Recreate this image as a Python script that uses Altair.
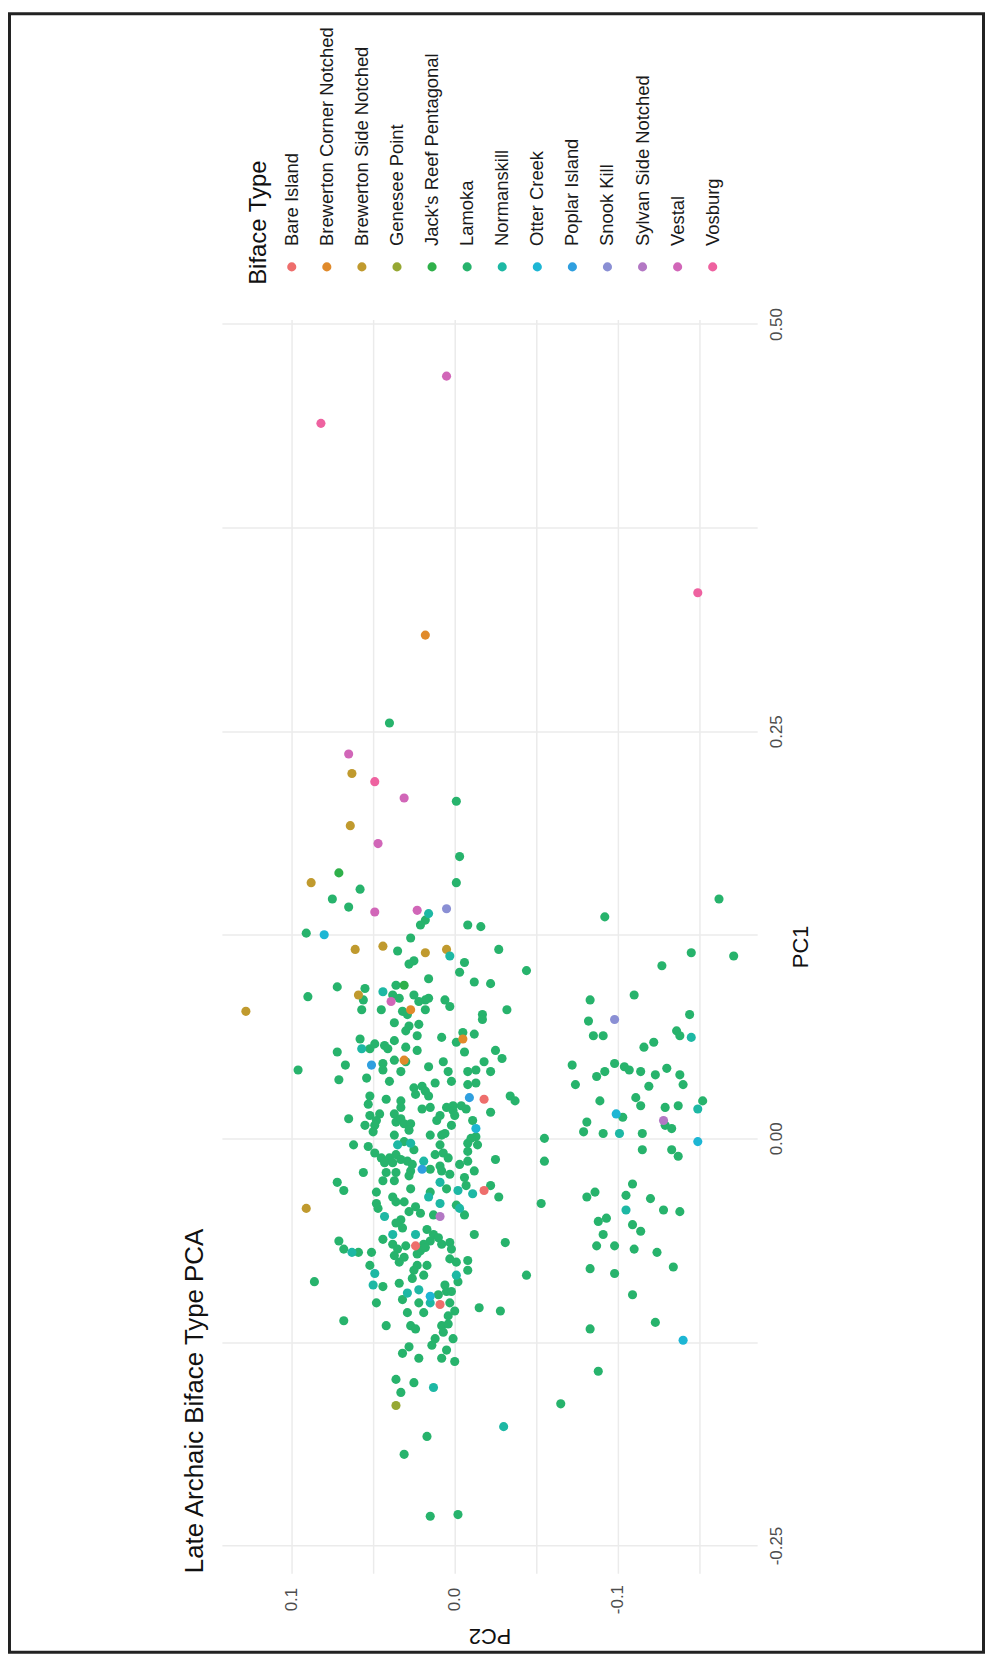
import altair as alt
import pandas as pd

FONT = "Liberation Sans"

types = ["Bare Island", "Brewerton Corner Notched", "Brewerton Side Notched", "Genesee Point",
         "Jack's Reef Pentagonal", "Lamoka", "Normanskill", "Otter Creek", "Poplar Island",
         "Snook Kill", "Sylvan Side Notched", "Vestal", "Vosburg"]
colors = ["#EE6E6C", "#E08A2B", "#C09A2E", "#96A833", "#2FB04A", "#27B36C", "#1DB8A4",
          "#1DB6D4", "#2F9FDF", "#8A8FD4", "#B378C4", "#D166B8", "#EE62A0"]

# ---- point values (PC2, PC1) per biface type ----
lamoka_pc2 = [0.040, -0.001, -0.003, -0.001, 0.058, 0.075, 0.065, 0.018, 0.021, -0.008, -0.016, 0.091,
              0.027, 0.035, -0.027, 0.025, 0.028, -0.006, -0.003, -0.044, 0.016, -0.012, -0.022, 0.072,
              0.055, 0.036, 0.090, 0.056, 0.038, 0.034, 0.025, 0.016, 0.018, 0.022, 0.006, 0.003,
              0.057, 0.045, 0.032, 0.018, 0.029, -0.017, -0.032, -0.017, 0.037, 0.028, 0.022,
              0.030, 0.023, 0.058, 0.049, 0.043, 0.037, 0.052, 0.041, 0.030, 0.023, 0.008, -0.005,
              -0.012, -0.001, -0.006, -0.025, -0.029, 0.072, 0.096, 0.067, 0.044, 0.037, 0.030, 0.033,
              0.044, 0.071, 0.054, 0.040, 0.016, 0.007, 0.004, 0.002, -0.008, -0.013, -0.018, -0.022,
              -0.013, -0.008, 0.012, 0.025, 0.020, 0.018, 0.024, 0.016, 0.052, 0.042, 0.033, -0.034,
              -0.037, 0.053, 0.033, 0.020, 0.015, 0.005, 0.001, -0.004, -0.007, -0.022, 0.001, 0.052,
              0.046, 0.037, 0.009, 0.000, 0.065, 0.048, 0.036, 0.033, 0.011, -0.011, 0.055, 0.049,
              0.031, 0.027, 0.002, 0.050, 0.028, 0.006, 0.037, 0.015, 0.008, -0.013, -0.010, -0.055,
              0.062, 0.053, 0.031, 0.009, -0.008, -0.014, 0.025, -0.008, 0.049, 0.045, 0.040, 0.036,
              0.033, 0.029, 0.043, 0.038, 0.026, 0.012, 0.007, 0.004, 0.009, -0.003, -0.008, -0.025,
              -0.055, 0.027, 0.015, 0.008, 0.042, 0.036, 0.056, 0.003, -0.012, 0.028, 0.044, 0.037,
              -0.006, 0.072, 0.068, 0.005, -0.007, -0.022, 0.048, 0.027, 0.015, -0.027,
              -0.053, 0.048, 0.047, 0.038, 0.036, 0.031, 0.024, 0.028, 0.021, -0.001, -0.006, 0.013,
              0.033, 0.036, 0.032, 0.044, 0.017, 0.013, 0.015, 0.019, 0.010, -0.012, -0.031, 0.071,
              0.068, 0.059, 0.051, 0.038, 0.035, 0.030, 0.037, 0.031, 0.034, 0.021, 0.018, 0.008,
              0.003, 0.002, 0.023, 0.003, -0.001, -0.008, -0.008, 0.052, 0.023, 0.017, 0.025, 0.019,
              0.086, 0.026, -0.002, -0.044, 0.044, 0.034, 0.006, 0.010, 0.005, 0.002, 0.032, 0.022,
              0.003, 0.048, 0.029, 0.019, 0.000, 0.004, -0.015, -0.028, 0.068, 0.042, 0.027, 0.024,
              0.008, 0.004, 0.007, 0.001, 0.012, 0.014, 0.028, 0.032, 0.005, 0.008, 0.022, 0.000,
              0.036, 0.025, 0.033, 0.017, 0.031, 0.015, -0.002,
              -0.162, -0.092, -0.145, -0.171, -0.127, -0.110, -0.083, -0.082, -0.144, -0.085, -0.091,
              -0.136, -0.138, -0.116, -0.122, -0.072, -0.098, -0.104, -0.107, -0.092, -0.087, -0.114,
              -0.123, -0.130, -0.138, -0.140, -0.074, -0.119, -0.089, -0.111, -0.114, -0.129, -0.137,
              -0.152, -0.103, -0.129, -0.133, -0.081, -0.079, -0.091, -0.115, -0.115, -0.133, -0.137,
              -0.109, -0.081, -0.086, -0.105, -0.120, -0.128, -0.138, -0.088, -0.093, -0.109, -0.114,
              -0.091, -0.087, -0.098, -0.110, -0.124, -0.083, -0.098, -0.134, -0.109, -0.123, -0.083,
              -0.088, -0.065]
lamoka_pc1 = [0.255, 0.207, 0.173, 0.157, 0.153, 0.147, 0.142, 0.134, 0.131, 0.131, 0.130, 0.126,
              0.123, 0.115, 0.116, 0.109, 0.107, 0.108, 0.102, 0.103, 0.098, 0.096, 0.095, 0.093,
              0.092, 0.094, 0.087, 0.085, 0.088, 0.086, 0.088, 0.086, 0.085, 0.084, 0.085, 0.081,
              0.079, 0.079, 0.078, 0.079, 0.076, 0.076, 0.079, 0.073, 0.071, 0.069, 0.070,
              0.066, 0.063, 0.061, 0.058, 0.057, 0.060, 0.055, 0.055, 0.056, 0.054, 0.062, 0.065,
              0.064, 0.059, 0.053, 0.054, 0.049, 0.053, 0.042, 0.045, 0.046, 0.048, 0.047, 0.041,
              0.042, 0.036, 0.037, 0.035, 0.044, 0.047, 0.041, 0.035, 0.041, 0.042, 0.047, 0.041,
              0.034, 0.033, 0.034, 0.031, 0.032, 0.029, 0.027, 0.026, 0.026, 0.024, 0.023, 0.026,
              0.023, 0.021, 0.019, 0.018, 0.019, 0.019, 0.020, 0.020, 0.018, 0.016, 0.017, 0.014,
              0.015, 0.015, 0.014, 0.014, 0.012, 0.011, 0.010, 0.012, 0.011, 0.011, 0.008, 0.008,
              0.009, 0.009, 0.008, 0.004, 0.005, 0.003, 0.002, 0.002, 0.002, 0.001, 0.000, 0.000,
              -0.004, -0.005, -0.002, -0.004, -0.003, -0.004, -0.007, -0.008, -0.009, -0.012, -0.012, -0.010,
              -0.013, -0.014, -0.015, -0.015, -0.016, -0.010, -0.009, -0.012, -0.017, -0.016, -0.014, -0.013,
              -0.014, -0.020, -0.019, -0.020, -0.021, -0.021, -0.021, -0.022, -0.020, -0.023, -0.026, -0.026,
              -0.024, -0.027, -0.032, -0.031, -0.029, -0.029, -0.033, -0.031, -0.033, -0.036,
              -0.040, -0.040, -0.043, -0.036, -0.039, -0.039, -0.042, -0.045, -0.046, -0.041, -0.047, -0.047,
              -0.050, -0.052, -0.055, -0.062, -0.056, -0.059, -0.063, -0.065, -0.061, -0.059, -0.064, -0.063,
              -0.068, -0.070, -0.070, -0.065, -0.068, -0.066, -0.072, -0.073, -0.076, -0.069, -0.067, -0.065,
              -0.064, -0.068, -0.071, -0.074, -0.076, -0.075, -0.081, -0.078, -0.078, -0.078, -0.081, -0.084,
              -0.088, -0.086, -0.088, -0.084, -0.091, -0.089, -0.090, -0.096, -0.094, -0.094, -0.099, -0.101,
              -0.101, -0.101, -0.107, -0.107, -0.106, -0.109, -0.104, -0.106, -0.112, -0.115, -0.115, -0.117,
              -0.115, -0.114, -0.119, -0.123, -0.123, -0.127, -0.128, -0.132, -0.130, -0.135, -0.135, -0.137,
              -0.148, -0.150, -0.156, -0.183, -0.194, -0.232, -0.231,
              0.147, 0.136, 0.114, 0.112, 0.106, 0.088, 0.085, 0.072, 0.076, 0.063, 0.063,
              0.066, 0.063, 0.056, 0.059, 0.045, 0.046, 0.044, 0.042, 0.041, 0.038, 0.041,
              0.039, 0.043, 0.039, 0.033, 0.033, 0.032, 0.023, 0.025, 0.020, 0.019, 0.020,
              0.023, 0.013, 0.008, 0.006, 0.010, 0.004, 0.003, 0.003, -0.007, -0.007, -0.011,
              -0.028, -0.036, -0.033, -0.035, -0.037, -0.044, -0.045, -0.051, -0.049, -0.053, -0.057,
              -0.059, -0.066, -0.066, -0.068, -0.070, -0.080, -0.083, -0.079, -0.096, -0.113, -0.117,
              -0.143, -0.163]

bare_pc2 = [-0.018, -0.018, 0.024, 0.009]
bare_pc1 = [0.024, -0.032, -0.066, -0.102]
bcn_pc2 = [0.018, 0.027, -0.005, 0.031]
bcn_pc1 = [0.309, 0.079, 0.061, 0.048]
bsn_pc2 = [0.063, 0.064, 0.088, 0.061, 0.044, 0.018, 0.005, 0.059, 0.128, 0.091]
bsn_pc1 = [0.224, 0.192, 0.157, 0.116, 0.118, 0.114, 0.116, 0.088, 0.078, -0.043]
genesee_pc2 = [0.036]
genesee_pc1 = [-0.164]
jacks_pc2 = [0.071, 0.031]
jacks_pc1 = [0.163, 0.094]
norman_pc2 = [0.016, 0.003, 0.044, 0.057, 0.035, 0.027, 0.019, 0.009, -0.002, -0.011, 0.016, 0.009,
              -0.003, 0.043, 0.038, 0.024, 0.063, 0.049, -0.001, 0.050, 0.029, 0.022, 0.015, 0.013,
              -0.030, -0.145, -0.149, -0.101, -0.105]
norman_pc1 = [0.138, 0.112, 0.090, 0.055, -0.004, -0.003, -0.014, -0.027, -0.032, -0.034, -0.036, -0.040,
              -0.043, -0.048, -0.059, -0.059, -0.070, -0.083, -0.084, -0.090, -0.095, -0.093, -0.101, -0.153,
              -0.177, 0.062, 0.018, 0.003, -0.044]
otter_pc2 = [0.080, -0.013, 0.015, -0.149, -0.140, -0.099]
otter_pc1 = [0.125, 0.006, -0.097, -0.002, -0.124, 0.015]
poplar_pc2 = [0.051, -0.009, 0.020]
poplar_pc1 = [0.045, 0.025, -0.019]
snook_pc2 = [0.005, -0.098]
snook_pc1 = [0.141, 0.073]
sylvan_pc2 = [0.009, -0.128]
sylvan_pc1 = [-0.048, 0.011]
vestal_pc2 = [0.005, 0.065, 0.031, 0.047, 0.049, 0.023, 0.039]
vestal_pc1 = [0.468, 0.236, 0.209, 0.181, 0.139, 0.140, 0.084]
vosburg_pc2 = [0.082, -0.149, 0.049]
vosburg_pc1 = [0.439, 0.335, 0.219]

# axis ticks / labels
pc2_grid = [-0.15, -0.1, -0.05, 0.0, 0.05, 0.1]
pc2_ticks = [0.1, 0.0, -0.1]
pc2_labels = ["0.1", "0.0", "-0.1"]
pc1_grid = [-0.25, -0.125, 0.0, 0.125, 0.25, 0.375, 0.5]
pc1_ticks = [-0.25, 0.0, 0.25, 0.5]
pc1_labels = ["-0.25", "0.00", "0.25", "0.50"]

title_text = "Late Archaic Biface Type PCA"
legend_title = "Biface Type"

# ---- build table ----
series = [
    ("Lamoka", lamoka_pc2, lamoka_pc1),
    ("Bare Island", bare_pc2, bare_pc1),
    ("Brewerton Corner Notched", bcn_pc2, bcn_pc1),
    ("Brewerton Side Notched", bsn_pc2, bsn_pc1),
    ("Genesee Point", genesee_pc2, genesee_pc1),
    ("Jack's Reef Pentagonal", jacks_pc2, jacks_pc1),
    ("Normanskill", norman_pc2, norman_pc1),
    ("Otter Creek", otter_pc2, otter_pc1),
    ("Poplar Island", poplar_pc2, poplar_pc1),
    ("Snook Kill", snook_pc2, snook_pc1),
    ("Sylvan Side Notched", sylvan_pc2, sylvan_pc1),
    ("Vestal", vestal_pc2, vestal_pc1),
    ("Vosburg", vosburg_pc2, vosburg_pc1),
]
rows = []
order = 0
for t, xs, ys in series:
    for a, b in zip(xs, ys):
        rows.append({"type": t, "PC2": a, "PC1": b, "o": order})
        order += 1
df = pd.DataFrame(rows)


def label_expr(vals, labs):
    s = "''"
    for v, l in zip(vals, labs):
        s = f"abs(datum.value - ({v})) < 1e-9 ? '{l}' : " + s
    return s


W, H = 538, 1260
PT = 84
color_scale = alt.Scale(domain=types, range=colors)

points = alt.Chart(df).mark_circle(size=PT, opacity=1).encode(
    x=alt.X("PC2:Q",
            scale=alt.Scale(domain=[-0.1854, 0.1427], reverse=True, nice=False, zero=False),
            axis=alt.Axis(values=pc2_grid, labelExpr=label_expr(pc2_ticks, pc2_labels),
                          grid=True, gridColor="#ebebeb", gridWidth=1.5, domain=False,
                          ticks=False, tickSize=0, labelAngle=270, labelAlign="center",
                          labelBaseline="middle", labelPadding=26, labelFontSize=17,
                          labelColor="#4d4d4d", labelFont=FONT, labelOverlap=False,
                          title="PC2", titleAngle=180, titleX=269, titleY=63,
                          titleAlign="center", titleBaseline="middle", titleFontSize=22,
                          titleFontWeight="normal", titleColor="#111111", titleFont=FONT)),
    y=alt.Y("PC1:Q",
            scale=alt.Scale(domain=[-0.267, 0.5027], nice=False, zero=False),
            axis=alt.Axis(orient="right", values=pc1_grid,
                          labelExpr=label_expr(pc1_ticks, pc1_labels),
                          grid=True, gridColor="#ebebeb", gridWidth=1.5, domain=False,
                          ticks=False, tickSize=0, labelAngle=270, labelAlign="center",
                          labelBaseline="middle", labelPadding=19, labelFontSize=17,
                          labelColor="#4d4d4d", labelFont=FONT, labelOverlap=False,
                          title="PC1", titleAngle=270, titleX=44, titleY=630,
                          titleAlign="center", titleBaseline="middle", titleFontSize=22,
                          titleFontWeight="normal", titleColor="#111111", titleFont=FONT)),
    color=alt.Color("type:N", scale=color_scale, legend=None),
    order=alt.Order("o:Q"),
)

leg_df = pd.DataFrame({"type": types, "idx": list(range(len(types)))})
leg_x = alt.X("idx:Q", scale=alt.Scale(domain=[0, len(types) - 1], range=[70.2, 493.3]), axis=None)

leg_dots = alt.Chart(leg_df).mark_circle(size=PT, opacity=1).encode(
    x=leg_x, y=alt.value(-53),
    color=alt.Color("type:N", scale=color_scale, legend=None),
)
leg_labels = alt.Chart(leg_df).mark_text(
    angle=270, align="left", baseline="middle", fontSize=18.5, font=FONT, color="#1a1a1a"
).encode(x=leg_x, y=alt.value(-74), text="type:N")

leg_title = alt.Chart(pd.DataFrame({"t": [legend_title]})).mark_text(
    angle=270, align="left", baseline="middle", fontSize=24, font=FONT, color="#111111"
).encode(x=alt.value(37), y=alt.value(-35), text="t:N")

title = alt.Chart(pd.DataFrame({"t": [title_text]})).mark_text(
    angle=270, align="left", baseline="middle", fontSize=26, font=FONT, color="#111111"
).encode(x=alt.value(-27), y=alt.value(H), text="t:N")

frame = alt.Chart(pd.DataFrame({"a": [0]})).mark_rect(
    fill="transparent", stroke="#222222", strokeWidth=3
).encode(x=alt.value(-213.5), x2=alt.value(765.5), y=alt.value(-307.5), y2=alt.value(1339.5))

chart = alt.layer(frame, points, leg_dots, leg_labels, leg_title, title).resolve_scale(
    x="independent"
).properties(width=W, height=H, padding=0, background="white").configure_view(
    stroke="transparent"
)

chart.save("out.html", embed_options={"renderer": "svg", "actions": False})
